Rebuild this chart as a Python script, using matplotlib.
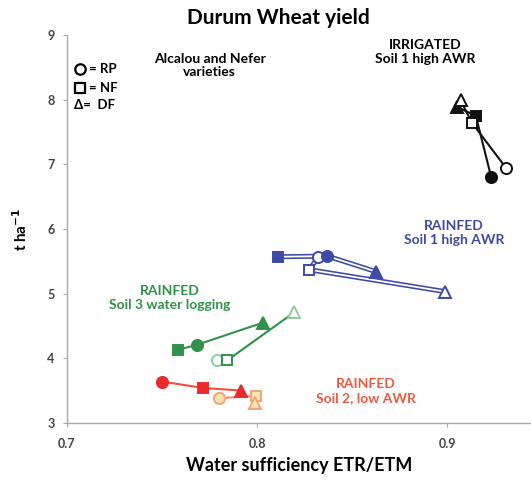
import matplotlib
matplotlib.use('Agg')
import matplotlib.pyplot as plt
import matplotlib.patheffects as pe

plt.rcParams['font.family'] = ['Lato', 'DejaVu Sans']

# yield (t/ha) against water sufficiency, values in RP, NF, DF order
irr_alc_x = [0.923, 0.915, 0.905]
irr_alc_y = [6.81, 7.75, 7.89]
irr_nef_x = [0.931, 0.913, 0.907]
irr_nef_y = [6.94, 7.64, 7.99]

s1_alc_x = [0.837, 0.811, 0.8625]
s1_alc_y = [5.58, 5.57, 5.34]
s1_nef_x = [0.832, 0.8275, 0.899]
s1_nef_y = [5.56, 5.37, 5.03]

s3_alc_x = [0.7686, 0.7586, 0.803]
s3_alc_y = [4.21, 4.13, 4.55]
s3_nef_x = [0.779, 0.7844, 0.8195]
s3_nef_y = [3.97, 3.97, 4.71]

s2_alc_x = [0.7498, 0.7717, 0.7916]
s2_alc_y = [3.64, 3.54, 3.50]
s2_nef_x = [0.780, 0.7993, 0.799]
s2_nef_y = [3.38, 3.42, 3.30]

xticks = [0.7, 0.8, 0.9]
yticks = [3, 4, 5, 6, 7, 8, 9]

MARKERS = ['o', 's', '^']
MS = [8, 7, 8]


def draw_series(ax, x, y, order, line_col, face, edge, hollow=False, zo=3):
    lx = [x[i] for i in order]
    ly = [y[i] for i in order]
    if hollow:
        ax.plot(lx, ly, color='white', lw=1.3, zorder=zo,
                path_effects=[pe.Stroke(linewidth=3.6, foreground=line_col), pe.Normal()])
    else:
        ax.plot(lx, ly, color=line_col, lw=1.5, zorder=zo)
    for i in range(3):
        ax.plot(x[i], y[i], marker=MARKERS[i], ms=MS[i], mfc=face[i], mec=edge[i],
                mew=1.4, ls='none', zorder=zo + 1)


fig = plt.figure(figsize=(5.31, 4.8), dpi=100)
ax = fig.add_axes([0.126, 0.119, 0.874, 0.808])

black = '#111111'
blue = '#3d4ba6'
green = '#2f9246'
lgreen = '#8fcb9c'
red = '#ec2a2c'
pale = '#fde7ad'
orange = '#f3a27c'

draw_series(ax, irr_alc_x, irr_alc_y, [2, 1, 0], black, [black] * 3, [black] * 3)
draw_series(ax, irr_nef_x, irr_nef_y, [2, 1, 0], black, ['white'] * 3, [black] * 3)

draw_series(ax, s1_nef_x, s1_nef_y, [0, 1, 2], blue, ['white'] * 3, [blue] * 3, hollow=True)
draw_series(ax, s1_alc_x, s1_alc_y, [1, 0, 2], blue, [blue] * 3, [blue] * 3, hollow=True)

draw_series(ax, s3_alc_x, s3_alc_y, [1, 0, 2], green, [green] * 3, [green] * 3)
draw_series(ax, s3_nef_x, s3_nef_y, [0, 1, 2], green, ['white'] * 3, [lgreen, green, lgreen])

draw_series(ax, s2_nef_x, s2_nef_y, [0, 1, 2], '#f58a6a', [pale] * 3, [orange] * 3)
draw_series(ax, s2_alc_x, s2_alc_y, [0, 1, 2], '#f0503c', [red] * 3, [red] * 3)

ax.set_xlim(0.7, 0.944)
ax.set_ylim(3, 9)
ax.set_xticks(xticks)
ax.set_xticklabels([str(t) for t in xticks])
ax.set_yticks(yticks)
for s in ['top', 'right']:
    ax.spines[s].set_visible(False)
for s in ['left', 'bottom']:
    ax.spines[s].set_color('#aaaaaa')
    ax.spines[s].set_linewidth(1.0)
ax.tick_params(axis='both', length=3, width=0.8, color='#aaaaaa',
               labelsize=9, labelcolor='#444444')
ax.tick_params(axis='x', pad=8)
ax.tick_params(axis='y', pad=6)
for lab in ax.get_xticklabels() + ax.get_yticklabels():
    lab.set_fontweight('bold')

ax.set_xlabel('Water sufficiency ETR/ETM', fontsize=13, fontweight='bold', labelpad=5)
ax.set_ylabel('t ha$^{\\mathbf{-1}}$', fontsize=11, fontweight='bold', labelpad=12)
fig.text(0.524, 0.962, 'Durum Wheat yield', fontsize=15, fontweight='bold',
         ha='center', va='center')

tk = dict(fontweight='bold', ha='center', va='center', linespacing=1.15, transform=ax.transData)
ax.text(0.775, 8.53, 'Alcalou and Nefer\nvarieties', fontsize=10, color='black', **tk)
ax.text(0.8886, 8.74, 'IRRIGATED\nSoil 1 high AWR', fontsize=10, color='black', **tk)
ax.text(0.9036, 5.94, 'RAINFED\nSoil 1 high AWR', fontsize=10, color=blue, **tk)
ax.text(0.754, 4.93, 'RAINFED\nSoil 3 water logging', fontsize=10, color=green, **tk)
ax.text(0.857, 3.49, 'RAINFED\nSoil 2, low AWR', fontsize=10, color='#f05a3c', **tk)

# symbol key in the upper left corner
key_x = 0.707
key_rows = [(8.47, 'o', '= RP'), (8.18, 's', '= NF')]
for ky, mk, lab in key_rows:
    ax.plot(key_x, ky, marker=mk, ms=7.5, mfc='white', mec='black', mew=1.6, ls='none')
    ax.text(key_x + 0.0045, ky, lab, fontsize=9.5, fontweight='bold', va='center', ha='left')
ax.text(key_x - 0.0035, 7.92, '\u0394=  DF', fontsize=9.5, fontweight='bold', va='center', ha='left')

fig.savefig('out.png', dpi=100)
